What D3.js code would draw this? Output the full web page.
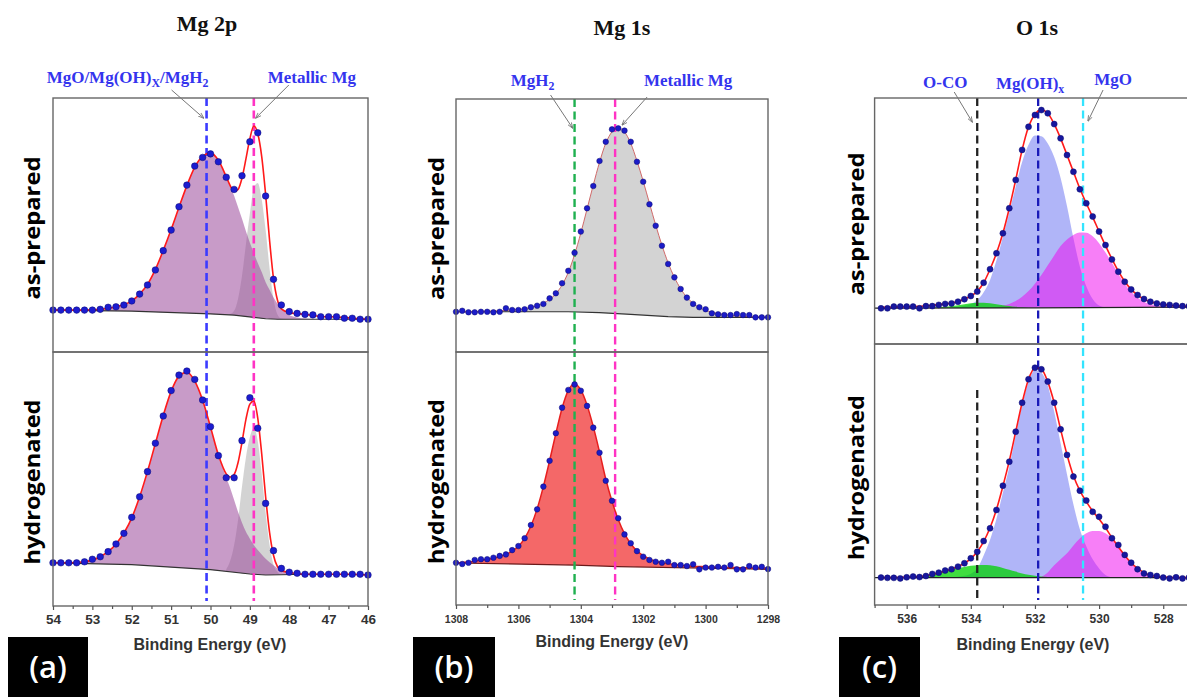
<!DOCTYPE html>
<html><head><meta charset="utf-8">
<script src="https://cdn.jsdelivr.net/npm/d3@7"></script>
<style>body{margin:0;background:#fff}svg{display:block}</style>
</head><body>
<svg id="chart" width="1187" height="697"></svg>
<script>
const N = null;
// ---------------- Tick labels ----------------
const mg2pTicks = [54,53,52,51,50,49,48,47,46];
const mg2pMinorTicks = [53.5,52.5,51.5,50.5,49.5,48.5,47.5,46.5];
const mg1sTicks = [1308,1306,1304,1302,1300,1298];
const mg1sMinorTicks = [1307,1305,1303,1301,1299];
const o1sTicks = [536,534,532,530,528];
const o1sMinorTicks = [537,535,533,531,529,527];

// ---------------- (a) Mg 2p ----------------
const mg2pDotEnergy = [54.0,53.8,53.6,53.4,53.2,53.0,52.8,52.6,52.4,52.2,52.0,51.8,51.6,51.4,51.2,51.0,50.8,50.6,50.4,50.2,50.0,49.8,49.6,49.4,49.2,49.0,48.8,48.6,48.4,48.2,48.0,47.8,47.6,47.4,47.2,47.0,46.8,46.6,46.4,46.2,46.0];
const mg2pFitEnergy = [54.0,53.6,53.2,52.8,52.4,52.0,51.8,51.6,51.4,51.2,51.0,50.8,50.6,50.4,50.2,50.0,49.8,49.6,49.5,49.4,49.3,49.2,49.1,49.0,48.9,48.8,48.7,48.6,48.5,48.4,48.3,48.2,48.0,47.6,47.2,46.8,46.4,46.0];
const mg2pPrepDots = [16.5,16.5,16.5,16.5,16.5,16.5,16.8,17.6,17.8,18.5,20.1,22.8,26.4,32.3,39.9,48.0,57.2,65.7,73.2,76.6,78.0,74.9,68.8,64.0,69.4,82.8,86.3,61.4,28.6,18.5,15.9,15.2,14.8,14.6,13.9,13.9,13.9,13.3,13.3,12.9,12.9];
const mg2pPrepFit = [16.5,16.5,16.5,16.8,17.8,20.1,22.8,26.6,32.5,40.0,48.2,57.0,65.5,72.8,77.0,78.3,75.5,69.0,65.5,63.2,64.0,68.5,76.0,84.0,89.0,86.0,77.0,62.0,44.0,29.0,20.5,17.0,15.5,14.8,14.0,13.8,13.3,12.9];
const mg2pPrepOxide = [16.5,16.5,16.5,16.8,17.8,20.1,22.8,26.6,32.5,40.0,48.2,57.0,65.5,72.8,77.0,78.3,75.0,68.8,65.5,61.5,57.0,52.5,47.5,43.0,39.0,35.0,31.5,27.5,24.5,21.5,19.0,17.2,14.5,13.2,12.9,12.9,12.9,12.9];
const mg2pPrepMetal = [N,N,N,N,N,N,N,N,N,N,N,N,N,N,N,N,N,14.8,15.0,16.2,21.0,30.0,42.5,54.5,64.5,66.5,60.0,48.0,33.0,21.0,14.8,13.2,12.9,N,N,N,N,N];
const mg2pPrepBg = [[54,16.5],[52,16.1],[50,15.0],[49.4,14.5],[48.6,13.1],[48.3,12.9],[46,12.9]];
const mg2pHydDots = [17.0,17.0,17.0,17.0,17.4,18.4,19.4,21.4,24.4,28.6,34.9,43.0,52.9,64.1,74.8,84.8,90.9,92.5,89.2,81.1,70.6,59.2,50.5,50.5,65.1,82.0,70.0,40.4,21.8,14.8,13.3,12.9,12.5,12.5,12.5,12.5,12.5,12.5,12.5,12.5,12.2];
const mg2pHydFit = [17.0,17.0,17.4,19.4,24.4,34.7,43.0,53.0,64.0,75.0,84.5,90.5,92.0,88.5,81.0,70.5,59.5,52.0,50.8,51.8,56.5,64.5,73.5,79.5,80.7,74.0,60.0,43.0,29.0,20.0,15.5,14.0,13.2,12.5,12.5,12.5,12.5,12.2];
const mg2pHydOxide = [17.0,17.0,17.4,19.4,24.4,34.7,43.0,53.0,64.0,75.0,84.5,90.5,92.0,88.5,81.0,70.5,59.5,50.5,46.5,41.7,37.0,32.8,29.2,26.5,24.0,22.0,20.3,18.6,17.2,16.0,14.8,14.0,13.0,12.5,12.5,12.5,12.5,12.3];
const mg2pHydMetal = [N,N,N,N,N,N,N,N,N,N,N,N,N,N,N,N,N,14.5,17.8,24.0,34.0,47.0,58.5,66.5,70.0,65.0,52.0,36.6,24.0,16.2,13.5,12.3,12.4,N,N,N,N,N];
const mg2pHydBg = [[54,17.0],[52,16.3],[50,14.3],[49,12.6],[48.6,12.2],[48.2,12.3],[47.6,12.5],[46,12.3]];

// ---------------- (b) Mg 1s ----------------
const mg1sEnergy = [1308.0,1307.8,1307.6,1307.4,1307.2,1307.0,1306.8,1306.6,1306.4,1306.2,1306.0,1305.8,1305.6,1305.4,1305.2,1305.0,1304.8,1304.6,1304.4,1304.2,1304.0,1303.8,1303.6,1303.4,1303.2,1303.0,1302.8,1302.6,1302.4,1302.2,1302.0,1301.8,1301.6,1301.4,1301.2,1301.0,1300.8,1300.6,1300.4,1300.2,1300.0,1299.8,1299.6,1299.4,1299.2,1299.0,1298.8,1298.6,1298.4,1298.2,1298.0];
const mg1sPrepDots = [15.9,16.3,15.7,15.7,15.9,15.9,15.7,15.9,17.3,16.6,16.6,16.9,17.7,18.3,19.0,21.2,23.2,27.2,32.1,39.2,47.6,56.8,65.6,75.5,83.1,88.0,88.4,87.5,83.1,75.2,67.3,58.4,49.9,42.0,34.8,29.5,24.9,21.5,19.0,17.7,16.9,15.3,14.9,14.6,14.6,15.0,14.6,14.6,13.7,13.7,13.7];
const mg1sPrepFit = [15.9,15.9,15.9,16.0,16.0,16.1,16.2,16.3,16.4,16.6,16.8,17.1,17.6,18.3,19.3,20.8,23.0,26.5,31.5,38.5,47.0,56.5,66.0,75.0,82.5,87.0,88.5,87.0,82.5,75.5,67.5,58.8,50.2,42.2,35.2,29.5,25.0,21.6,19.2,17.6,16.5,15.7,15.2,14.8,14.5,14.3,14.1,14.0,13.9,13.8,13.7];
const mg1sPrepBg = [[1308,15.9],[1304.4,15.9],[1303.4,15.6],[1302.4,14.9],[1301.2,14.0],[1300.4,13.7],[1298,13.7]];
const mg1sHydDots = [16.7,16.2,16.7,17.8,18.1,18.1,18.7,19.4,20.0,21.7,23.3,26.4,31.6,37.8,46.8,57.0,67.9,78.0,85.0,87.2,84.7,78.7,70.1,60.2,49.1,41.2,34.3,27.9,24.4,21.3,19.1,17.8,17.1,16.7,17.1,15.8,15.8,15.4,16.1,14.1,14.8,14.8,15.1,14.8,15.8,14.1,14.1,15.4,14.8,15.1,14.2];
const mg1sHydFit = [16.6,16.8,17.0,17.3,17.7,18.1,18.6,19.2,20.0,21.3,23.2,26.3,31.2,38.0,46.8,57.0,67.8,77.8,84.8,87.5,85.0,79.0,70.5,60.5,49.8,41.0,33.8,28.2,24.2,21.4,19.5,18.2,17.3,16.7,16.3,16.0,15.7,15.5,15.3,15.2,15.1,15.0,14.9,14.9,14.8,14.8,14.7,14.7,14.6,14.6,14.5];
const mg1sHydBg = [[1308,16.6],[1304.2,15.8],[1302.8,15.2],[1298,14.1]];

// ---------------- (c) O 1s ----------------
const o1sEnergy = [536.8,536.6,536.4,536.2,536.0,535.8,535.6,535.4,535.2,535.0,534.8,534.6,534.4,534.2,534.0,533.8,533.6,533.4,533.2,533.0,532.8,532.6,532.4,532.2,532.0,531.8,531.6,531.4,531.2,531.0,530.8,530.6,530.4,530.2,530.0,529.8,529.6,529.4,529.2,529.0,528.8,528.6,528.4,528.2,528.0,527.8,527.6,527.4,527.2];
const o1sPrepDots = [14.5,14.5,15.2,15.2,15.2,15.2,14.5,15.4,15.4,15.9,16.3,16.5,17.2,18.2,19.5,21.3,24.9,30.4,36.9,45.0,55.2,66.7,78.9,88.3,93.1,95.1,93.8,89.4,83.6,76.8,70.0,62.9,57.2,51.8,45.7,40.2,34.4,29.4,25.3,22.2,19.9,18.3,17.2,16.5,16.1,15.9,15.6,15.4,15.4];
const o1sPrepFit = [14.9,14.9,15.0,15.0,15.1,15.2,15.3,15.5,15.7,16.0,16.3,16.7,17.3,18.2,19.5,21.4,24.9,30.4,36.9,45.0,55.2,66.7,78.9,88.3,93.4,95.1,93.8,89.4,83.6,76.8,70.0,63.2,57.2,51.6,45.7,40.0,34.6,29.6,25.4,22.2,19.9,18.3,17.2,16.5,16.0,15.7,15.5,15.4,15.3];
const o1sPrepOCO = [N,N,N,N,N,N,N,N,14.7,14.9,15.1,15.4,15.8,16.2,16.6,16.8,16.8,16.6,16.2,15.8,15.4,15.1,14.9,14.7,N,N,N,N,N,N,N,N,N,N,N,N,N,N,N,N,N,N,N,N,N,N,N,N,N];
const o1sPrepHydroxide = [N,N,N,N,N,N,N,N,N,N,N,14.7,15.0,15.5,16.3,17.8,21.0,26.0,34.0,43.5,53.5,64.0,74.0,81.0,84.8,84.5,81.5,76.0,67.5,56.0,43.0,31.5,23.5,18.3,15.6,14.9,N,N,N,N,N,N,N,N,N,N,N,N,N];
const o1sPrepMgO = [N,N,N,N,N,N,N,N,N,N,N,N,N,N,N,N,N,14.7,15.0,15.5,16.3,17.5,19.2,21.5,24.5,28.0,32.0,36.0,39.8,42.5,44.3,45.3,45.2,43.8,41.0,37.2,33.0,28.5,24.5,21.2,18.8,17.2,16.2,15.6,15.3,15.1,15.0,N,N];
const o1sPrepBg = [[537,14.6],[532,14.7],[527,15.0]];
const o1sHydDots = [10.5,10.4,10.4,10.2,10.6,10.9,10.7,11.1,11.9,12.4,13.2,13.7,14.7,16.0,17.9,20.4,24.5,29.4,36.4,45.7,54.9,66.4,77.5,86.5,90.9,90.3,85.6,77.5,67.3,57.5,49.2,43.8,40.0,35.7,33.8,30.0,25.6,23.0,19.2,16.2,13.7,12.1,11.5,11.1,10.5,10.2,10.6,10.2,10.5];
const o1sHydFit = [10.5,10.5,10.5,10.6,10.7,10.8,10.9,11.2,11.7,12.3,13.0,13.8,14.8,16.0,17.8,20.4,24.3,29.6,36.6,45.5,55.2,66.4,77.5,86.5,90.8,90.3,85.5,77.5,67.3,57.6,49.5,43.8,39.6,36.0,32.9,29.6,25.8,22.3,19.0,16.2,14.0,12.4,11.4,10.9,10.7,10.6,10.5,10.5,10.5];
const o1sHydOCO = [N,N,N,N,N,10.7,11.0,11.4,11.9,12.5,13.1,13.7,14.2,14.6,15.0,15.2,15.3,15.2,14.8,14.2,13.5,12.8,12.1,11.6,11.2,10.9,10.7,N,N,N,N,N,N,N,N,N,N,N,N,N,N,N,N,N,N,N,N,N,N];
const o1sHydHydroxide = [N,N,N,N,N,N,N,N,N,N,N,10.6,10.8,11.2,12.0,14.0,19.0,25.0,33.0,43.0,53.0,65.0,76.5,85.5,90.0,89.0,84.0,74.0,62.0,50.0,38.5,29.0,22.5,17.5,14.0,11.5,10.6,N,N,N,N,N,N,N,N,N,N,N,N];
const o1sHydMgO = [N,N,N,N,N,N,N,N,N,N,N,N,N,N,N,N,N,N,N,N,N,N,N,N,N,10.8,12.5,15.2,17.5,19.8,22.8,25.5,27.5,28.4,28.4,27.5,25.5,22.5,19.0,16.0,13.6,12.0,11.1,10.7,10.5,N,N,N,N];
const o1sHydBg = [[537,10.5],[527,10.5]];

// ---------------- Layout / style ----------------
const svg = d3.select("#chart");
const defs = svg.append("defs");
defs.append("marker").attr("id","arr").attr("viewBox","0 0 10 10").attr("refX",9).attr("refY",5)
  .attr("markerWidth",6).attr("markerHeight",6).attr("orient","auto")
  .append("path").attr("d","M0,1.5 L10,5 L0,8.5").attr("fill","none").attr("stroke","#777").attr("stroke-width",1.4);

const RED = "#ff1a1a";
const panels = [
  { title:"Mg 2p", tag:"(a)", domain:[54,46], range:[53,368], top:98, mid:352, bottom:606,
    ticks:mg2pTicks, minor:mg2pMinorTicks, tickFont:13.5, tickPad:4.4, dotR:3.3, dotFill:"#1c1cd0",
    titleX:207, titleY:31, tagX:[8,88], sideX:40, beX:210, beY:650,
    subs:[
      {E:mg2pFitEnergy, fit:mg2pPrepFit, bg:mg2pPrepBg, dotE:mg2pDotEnergy, dots:mg2pPrepDots, fitStroke:RED, fitW:1.6, bgStroke:"#333",
       comps:[{v:mg2pPrepMetal, fill:"rgba(120,120,120,0.33)"},{v:mg2pPrepOxide, fill:"rgba(155,73,155,0.55)"}]},
      {E:mg2pFitEnergy, fit:mg2pHydFit, bg:mg2pHydBg, dotE:mg2pDotEnergy, dots:mg2pHydDots, fitStroke:RED, fitW:1.6, bgStroke:"#333",
       comps:[{v:mg2pHydMetal, fill:"rgba(120,120,120,0.33)"},{v:mg2pHydOxide, fill:"rgba(155,73,155,0.55)"}]}
    ],
    refs:[{e:50.1, color:"#3b3bff", w:2.6},{e:48.9, color:"#ff33c4", w:2.6}],
    labels:[
      {parts:[["MgO/Mg(OH)",0],["X",1],["/MgH",0],["2",1]], e:50.1, dx:-79, y:83, arrow:[-35,-8,-3,20]},
      {parts:[["Metallic Mg",0]], e:48.9, dx:58, y:83, arrow:[35,-13,2,20]}
    ]},
  { title:"Mg 1s", tag:"(b)", domain:[1308,1298], range:[456,768], top:99, mid:352, bottom:605,
    ticks:mg1sTicks, minor:mg1sMinorTicks, tickFont:10.5, tickPad:6.2, dotR:2.8, dotFill:"#1c1cc8",
    titleX:622, titleY:35, tagX:[413,495], sideX:444, beX:612, beY:647,
    subs:[
      {E:mg1sEnergy, fit:mg1sPrepFit, bg:mg1sPrepBg, dotE:mg1sEnergy, dots:mg1sPrepDots, fitStroke:"#d06a6a", fitW:1.0, bgStroke:"#333",
       comps:[{v:mg1sPrepFit, fill:"rgba(128,128,128,0.35)"}]},
      {E:mg1sEnergy, fit:mg1sHydFit, bg:mg1sHydBg, dotE:mg1sEnergy, dots:mg1sHydDots, fitStroke:"#e81e1e", fitW:1.5, bgStroke:"#6b1a1a",
       comps:[{v:mg1sHydFit, fill:"rgba(240,40,40,0.7)"}]}
    ],
    refs:[{e:1304.2, color:"#1fb050", w:2.4},{e:1302.9, color:"#ff33c4", w:2.4}],
    labels:[
      {parts:[["MgH",0],["2",1]], e:1304.2, dx:-42, y:86, arrow:[-24,-4,-2,29]},
      {parts:[["Metallic Mg",0]], e:1302.9, dx:73, y:86, arrow:[32,-2,7,26]}
    ]},
  { title:"O 1s", tag:"(c)", domain:[537,527], range:[874.6,1195.3], top:98, mid:344, bottom:605,
    ticks:o1sTicks, minor:o1sMinorTicks, tickFont:12, tickPad:5.8, dotR:3.0, dotFill:"#17179e",
    titleX:1037, titleY:35, tagX:[839,920], sideX:864, beX:1033, beY:650,
    subs:[
      {E:o1sEnergy, fit:o1sPrepFit, bg:o1sPrepBg, dotE:o1sEnergy, dots:o1sPrepDots, fitStroke:RED, fitW:1.6, bgStroke:"#222",
       comps:[{v:o1sPrepHydroxide, fill:"rgba(80,90,240,0.45)"},{v:o1sPrepMgO, fill:"rgba(240,0,240,0.5)"},{v:o1sPrepOCO, fill:"rgba(0,210,0,0.75)"}]},
      {E:o1sEnergy, fit:o1sHydFit, bg:o1sHydBg, dotE:o1sEnergy, dots:o1sHydDots, fitStroke:RED, fitW:1.6, bgStroke:"#222",
       comps:[{v:o1sHydHydroxide, fill:"rgba(80,90,240,0.45)"},{v:o1sHydMgO, fill:"rgba(240,0,240,0.5)"},{v:o1sHydOCO, fill:"rgba(0,210,0,0.75)"}]}
    ],
    refs:[{e:533.8, color:"#222", w:2.3, gap:46},{e:531.9, color:"#1a1ab8", w:2.3},{e:530.5, color:"#33e4ff", w:2.3}],
    labels:[
      {parts:[["O-CO",0]], e:533.8, dx:-32, y:88, arrow:[-23,-6,-5,24]},
      {parts:[["Mg(OH)",0],["x",1]], e:531.9, dx:-8, y:89, arrow:null},
      {parts:[["MgO",0]], e:530.5, dx:30, y:85, arrow:[20,-8,5,23]}
    ]}
];

function drawPanel(p) {
  const g = svg.append("g");
  const x = d3.scaleLinear().domain(p.domain).range(p.range);
  const bands = [[p.top, p.mid], [p.mid, p.bottom]];
  const ys = bands.map(([t,b]) => d3.scaleLinear().domain([0,100]).range([b,t]));

  // component fills + background
  p.subs.forEach((s, i) => {
    const y = ys[i];
    const bgScale = d3.scaleLinear().domain(s.bg.map(d=>d[0])).range(s.bg.map(d=>d[1])).clamp(true);
    s.comps.forEach(c => {
      const pts = s.E.map((e,k) => ({e, v:c.v[k]}));
      const area = d3.area().defined(d => d.v != null)
        .x(d => x(d.e)).y0(d => y(bgScale(d.e))).y1(d => y(d.v)).curve(d3.curveMonotoneX);
      g.append("path").datum(pts).attr("d", area).attr("fill", c.fill).attr("stroke","none");
    });
    g.append("path").datum(s.bg)
      .attr("d", d3.line().x(d=>x(d[0])).y(d=>y(d[1])))
      .attr("fill","none").attr("stroke", s.bgStroke).attr("stroke-width",1.2);
  });

  // reference dashed lines
  p.refs.forEach(r => {
    const xx = x(r.e);
    const segs = r.gap ? [[p.top, p.mid],[p.mid + r.gap, p.bottom - 5]] : [[p.top, p.bottom - 5]];
    segs.forEach(([a,b]) => {
      g.append("line").attr("x1",xx).attr("x2",xx).attr("y1",a).attr("y2",b)
        .attr("stroke", r.color).attr("stroke-width", r.w).attr("stroke-dasharray","8,4.5");
    });
  });

  // fit lines + dots
  p.subs.forEach((s, i) => {
    const y = ys[i];
    const pts = s.E.map((e,k) => ({e, v:s.fit[k]}));
    g.append("path").datum(pts)
      .attr("d", d3.line().x(d=>x(d.e)).y(d=>y(d.v)).curve(d3.curveMonotoneX))
      .attr("fill","none").attr("stroke", s.fitStroke).attr("stroke-width", s.fitW);
    g.append("g").selectAll("circle").data(s.dotE.map((e,k)=>({e, v:s.dots[k]}))).join("circle")
      .attr("cx", d=>x(d.e)).attr("cy", d=>y(d.v)).attr("r", p.dotR)
      .attr("fill", p.dotFill).attr("stroke","#0c0c70").attr("stroke-width",0.5);
  });

  // frames
  bands.forEach(([t,b]) => {
    g.append("rect").attr("x", p.range[0]).attr("y", t).attr("width", p.range[1]-p.range[0]).attr("height", b-t)
      .attr("fill","none").attr("stroke","#666").attr("stroke-width",1.4);
  });

  // axis
  const ax = g.append("g").attr("transform",`translate(0,${p.bottom})`)
    .call(d3.axisBottom(x).tickValues(p.ticks).tickSize(4).tickPadding(p.tickPad).tickFormat(d3.format("d")));
  ax.select(".domain").remove();
  ax.selectAll("line").attr("stroke","#555").attr("stroke-width",1.2);
  ax.selectAll("text").attr("font-family","Liberation Sans, Arial, sans-serif").attr("font-weight","bold")
    .attr("font-size", p.tickFont).attr("fill","#333");
  const mx = g.append("g").attr("transform",`translate(0,${p.bottom})`)
    .call(d3.axisBottom(x).tickValues(p.minor).tickSize(3).tickFormat(""));
  mx.select(".domain").remove();
  mx.selectAll("line").attr("stroke","#555").attr("stroke-width",1.2);

  // title
  g.append("text").attr("x", p.titleX).attr("y", p.titleY).attr("text-anchor","middle")
    .attr("font-family","Liberation Serif, Times New Roman, serif").attr("font-weight","bold")
    .attr("font-size",22).attr("fill","#111").text(p.title);

  // peak labels + arrows
  p.labels.forEach(l => {
    const xx = x(l.e);
    const t = g.append("text").attr("x", xx + l.dx).attr("y", l.y).attr("text-anchor","middle")
      .attr("font-family","Liberation Serif, Times New Roman, serif").attr("font-weight","bold")
      .attr("font-size",17).attr("fill","#3434ee");
    let shifted = false;
    l.parts.forEach(([txt, sub]) => {
      const ts = t.append("tspan").text(txt);
      if (sub) { ts.attr("font-size","70%").attr("dy", 4); shifted = true; }
      else if (shifted) { ts.attr("dy", -4); shifted = false; }
    });
    if (l.arrow) {
      const [sx, sy, ex, ey] = l.arrow;
      g.append("line").attr("x1", xx+sx).attr("y1", p.top+sy).attr("x2", xx+ex).attr("y2", p.top+ey)
        .attr("stroke","#777").attr("stroke-width",1).attr("marker-end","url(#arr)");
    }
  });

  // side labels
  const sideLab = [["as-prepared", (p.top+p.mid)/2 + 3, 143], ["hydrogenated", (p.mid+p.bottom)/2 + 3, 165]];
  sideLab.forEach(([txt, cy, len]) => {
    g.append("text").attr("transform",`translate(${p.sideX},${cy}) rotate(-90)`).attr("text-anchor","middle")
      .attr("font-family","Open Sans, Noto Sans, sans-serif").attr("font-weight","bold").attr("font-size",21)
      .attr("textLength", len).attr("lengthAdjust","spacingAndGlyphs").attr("fill","#000").text(txt);
  });

  // x-axis title
  g.append("text").attr("x", p.beX).attr("y", p.beY).attr("text-anchor","middle")
    .attr("font-family","Liberation Sans, Arial, sans-serif").attr("font-weight","bold").attr("font-size",16)
    .attr("fill","#333").text("Binding Energy (eV)");

  // tag box
  g.append("rect").attr("x", p.tagX[0]).attr("y", 637).attr("width", p.tagX[1]-p.tagX[0]).attr("height", 60).attr("fill","#000");
  g.append("text").attr("x", (p.tagX[0]+p.tagX[1])/2).attr("y", 678).attr("text-anchor","middle")
    .attr("font-family","Open Sans, Noto Sans, sans-serif").attr("font-weight","600").attr("font-size",31)
    .attr("fill","#fff").text(p.tag);
}
panels.forEach(drawPanel);
</script>
</body></html>
